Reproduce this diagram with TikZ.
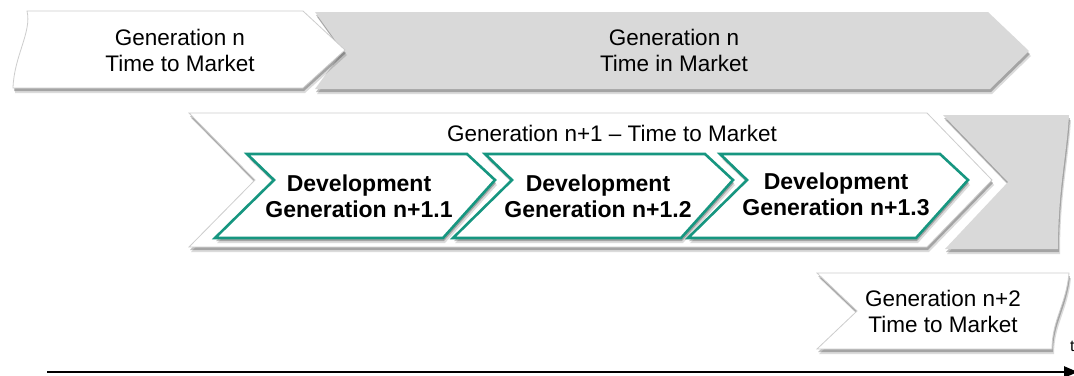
\documentclass[tikz,border=0pt]{standalone}
\usepackage{fontspec}
\setmainfont{Liberation Sans}
\usetikzlibrary{shadows,arrows.meta}
\definecolor{teal1}{RGB}{22,150,128}
\definecolor{greyfill}{RGB}{217,217,217}
\definecolor{edgegrey}{RGB}{205,205,205}
\begin{document}
\begin{tikzpicture}[x=1pt,y=-1pt,
  softshadow/.style={drop shadow={shadow xshift=1pt,shadow yshift=-3pt,opacity=0.25,fill=black},
                     drop shadow={shadow xshift=2pt,shadow yshift=-5pt,opacity=0.14,fill=black}},
  whiteshape/.style={fill=white,draw=edgegrey,line width=0.8pt,softshadow},
  greyshape/.style={fill=greyfill,draw=none,softshadow},
  chev/.style={fill=white,draw=teal1,line width=2.6pt,line join=miter,softshadow},
  lbl/.style={font=\fontsize{22.5}{26}\selectfont,align=center,text=black,inner sep=0pt},
  blbl/.style={font=\fontsize{23}{26}\selectfont\bfseries,align=center,text=black,inner sep=0pt},
]
\clip (0,0) rectangle (1074,375);
\fill[white] (0,0) rectangle (1074,375);

% top row
\path[greyshape] (315,12) -- (988,12) -- (1029,51) -- (990,89) -- (315,89) -- (343,51) -- cycle;
\path[whiteshape] (27,11) .. controls (32,32) and (14,56) .. (13,88) -- (303,88) -- (345,50) -- (303,11) -- cycle;
\node[lbl] (ta) at (180,50) {Generation n\\Time to Market};
\node[lbl] (tb) at (674,50) {Generation n\\Time in Market};

% second row
\path[greyshape] (943,115) -- (1069,115) .. controls (1066,160) and (1058,190) .. (1058,249) -- (945,249) -- (1008,182) -- cycle;
\path[whiteshape] (189,113) -- (927,113) -- (992,180) -- (927,247) -- (189,247) -- (255,180) -- cycle;
\node[lbl] (tc) at (612,133) {Generation n+1 – Time to Market};

\path[chev] (247,154) -- (467,154) -- (495,180) -- (443,238) -- (215,238) -- (274,180) -- cycle;
\path[chev] (485,154) -- (705,154) -- (733,180) -- (681,238) -- (453,238) -- (512,180) -- cycle;
\path[chev] (720,154) -- (940,154) -- (968,180) -- (916,238) -- (688,238) -- (747,180) -- cycle;
\node[blbl] (d1) at (359,196) {Development\\Generation n+1.1};
\node[blbl] (d2) at (598,196) {Development\\Generation n+1.2};
\node[blbl] (d3) at (836,194) {Development\\Generation n+1.3};

% third row
\path[whiteshape] (817,273) -- (1069,273) .. controls (1066,305) and (1052,320) .. (1052,349) -- (817,349) -- (857,311) -- cycle;
\node[lbl] (te) at (943,311) {Generation n+2\\Time to Market};

% time axis
\node[anchor=west,font=\fontsize{16}{16}\selectfont,inner sep=0pt] (tmark) at (1070,346) {t};
\coordinate (axs) at (47,372);
\coordinate (axe) at (1078,372);
\draw[line width=2.4pt,-{Triangle[length=14pt,width=11pt]}] (axs) -- (axe);
\end{tikzpicture}
\end{document}
